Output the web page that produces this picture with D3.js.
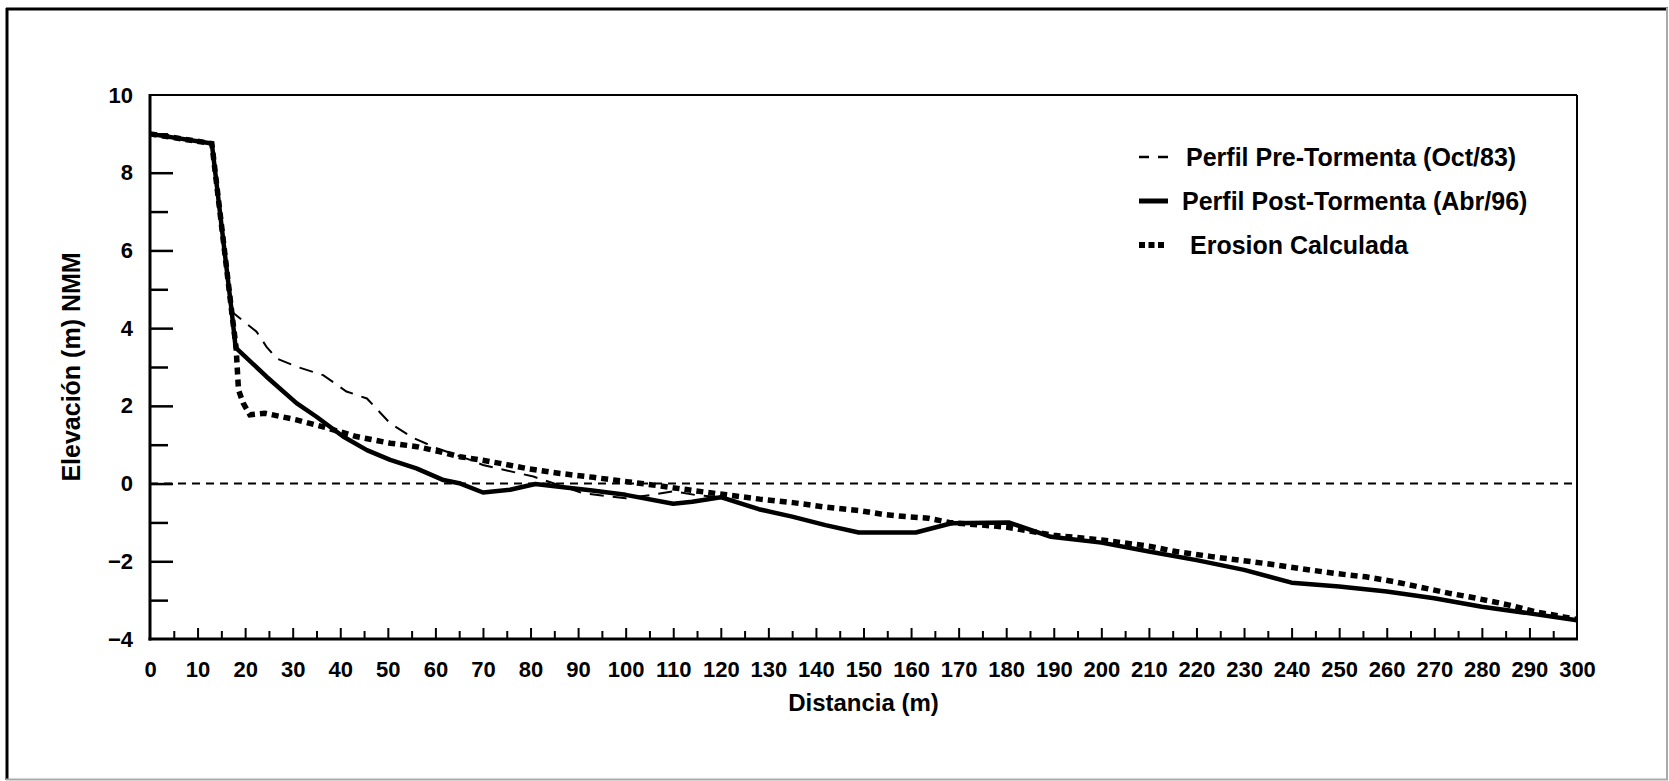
<!DOCTYPE html>
<html>
<head>
<meta charset="utf-8">
<script src="https://cdn.jsdelivr.net/npm/d3@7"></script>
<style>
  html, body { margin: 0; padding: 0; background: #fff; }
  svg { display: block; }
  text { font-family: "Liberation Sans", Arial, sans-serif; font-weight: bold; fill: #000; }
</style>
</head>
<body>
<svg id="chart" width="1669" height="781"></svg>
<script>
// ---------------- data ----------------
const distPre = [0, 13, 17.2, 22.4, 24.5, 26.6, 30.8, 36.4, 41.3, 45.6, 50.5, 55.4, 60.3, 67.3, 70, 80.6, 91, 96, 100, 105, 110, 115, 120,
  128, 135, 142, 149, 161, 168.5, 180.5, 189.4, 200, 210, 220, 230, 240, 250, 260, 270, 280, 290, 300];
const elevPre = [9.0, 8.75, 4.42, 3.91, 3.52, 3.22, 3.01, 2.79, 2.37, 2.19, 1.55, 1.17, 0.91, 0.61, 0.48, 0.18, -0.25, -0.32, -0.38, -0.3, -0.2, -0.3, -0.35,
  -0.66, -0.85, -1.07, -1.26, -1.26, -1.02, -1.0, -1.37, -1.52, -1.75, -1.97, -2.22, -2.55, -2.65, -2.78, -2.95, -3.17, -3.34, -3.52];

const distPost = [0, 13, 17.2, 18, 24.5, 30.8, 35, 40.6, 45.6, 50.5, 56, 61.7, 65, 70, 75.7, 81, 86, 93, 100, 110, 114, 120,
  128, 135, 142, 149, 161, 168.5, 180.5, 189.4, 200, 210, 220, 230, 240, 250, 260, 270, 280, 290, 300];
const elevPost = [9.0, 8.75, 4.4, 3.5, 2.75, 2.07, 1.72, 1.21, 0.86, 0.61, 0.39, 0.09, 0.01, -0.23, -0.16, -0.01, -0.08, -0.18, -0.29, -0.52, -0.47, -0.35,
  -0.66, -0.85, -1.07, -1.26, -1.26, -1.02, -1.0, -1.37, -1.52, -1.75, -1.97, -2.22, -2.55, -2.65, -2.78, -2.95, -3.17, -3.34, -3.52];

const distEro = [0, 13, 17.2, 18.1, 18.6, 19.6, 21, 24.2, 30.8, 36.4, 43.4, 50.5, 56.1, 61, 65.2, 69.4, 73.6, 79.1, 86.2, 93.2, 100.2, 107.2,
  114.2, 121.2, 128.2, 135.2, 142.3, 149.3, 154, 158.8, 163.6, 168, 180, 190, 200, 210, 215.7, 223.2, 229, 236.5, 243.1, 248.9, 255.6,
  261.4, 266.4, 273, 278.8, 285.5, 291.3, 297.1, 300];
const elevEro = [9.0, 8.75, 4.4, 3.5, 2.41, 2.07, 1.77, 1.81, 1.64, 1.46, 1.21, 1.04, 0.95, 0.82, 0.69, 0.61, 0.52, 0.39, 0.26, 0.16, 0.05, -0.06,
  -0.18, -0.29, -0.40, -0.49, -0.61, -0.70, -0.79, -0.85, -0.89, -1.0, -1.12, -1.33, -1.45, -1.61, -1.75, -1.88, -1.97, -2.09, -2.21, -2.31, -2.40,
  -2.52, -2.65, -2.82, -2.95, -3.12, -3.30, -3.43, -3.5];

const xTickLabels = [0,10,20,30,40,50,60,70,80,90,100,110,120,130,140,150,160,170,180,190,200,210,220,230,240,250,260,270,280,290,300];
const yTickLabels = [10, 8, 6, 4, 2, 0, -2, -4];
const seriesNames = ["Perfil Pre-Tormenta (Oct/83)", "Perfil Post-Tormenta (Abr/96)", "Erosion Calculada"];
const xTitle = "Distancia (m)";
const yTitle = "Elevación (m) NMM";

// ---------------- layout ----------------
const L = 150, R = 1577, T = 95, B = 639;
const svg = d3.select("#chart");

const x = d3.scaleLinear().domain([0, 300]).range([L, R]);
const y = d3.scaleLinear().domain([-4, 10]).range([B, T]);

// outer frame
svg.append("line").attr("x1", 7).attr("x2", 7).attr("y1", 8).attr("y2", 780).attr("stroke", "#000").attr("stroke-width", 3);
svg.append("line").attr("x1", 6).attr("x2", 1668).attr("y1", 9).attr("y2", 9).attr("stroke", "#000").attr("stroke-width", 3);
svg.append("line").attr("x1", 1667).attr("x2", 1667).attr("y1", 8).attr("y2", 780).attr("stroke", "#aaa").attr("stroke-width", 2);
svg.append("line").attr("x1", 6).attr("x2", 1668).attr("y1", 779.5).attr("y2", 779.5).attr("stroke", "#aaa").attr("stroke-width", 2);

// plot frame: top & right thin
svg.append("line").attr("x1", L).attr("x2", R).attr("y1", T).attr("y2", T).attr("stroke", "#000").attr("stroke-width", 2);
svg.append("line").attr("x1", R).attr("x2", R).attr("y1", T).attr("y2", B).attr("stroke", "#000").attr("stroke-width", 2);

// x axis: major ticks, minor ticks, labels
const xMajor = d3.axisBottom(x).tickValues(d3.range(10, 300, 10)).tickSizeInner(-11).tickSizeOuter(0).tickFormat("");
const xMinor = d3.axisBottom(x).tickValues(d3.range(5, 300, 10)).tickSizeInner(-8).tickSizeOuter(0).tickFormat("");
const xLab = d3.axisBottom(x).tickValues(xTickLabels).tickSize(0).tickPadding(22).tickFormat(d3.format("d"));

function styleAxis(g, sw) {
  g.selectAll("line").attr("stroke", "#000").attr("stroke-width", sw);
  g.select(".domain").remove();
}
svg.append("g").attr("transform", `translate(0,${B})`).call(xMajor).call(g => styleAxis(g, 2));
svg.append("g").attr("transform", `translate(0,${B})`).call(xMinor).call(g => styleAxis(g, 2));
svg.append("g").attr("transform", `translate(0,${B})`).call(xLab).call(g => {
  g.select(".domain").remove();
  g.selectAll("text").attr("font-size", 22).attr("font-family", "Liberation Sans, Arial, sans-serif").attr("font-weight", "bold").attr("fill", "#000");
});

// y axis
const yMajor = d3.axisLeft(y).tickValues([8, 6, 4, 2, 0, -2]).tickSizeInner(-23).tickSizeOuter(0).tickFormat("");
const yMinor = d3.axisLeft(y).tickValues([9, 7, 5, 3, 1, -1, -3]).tickSizeInner(-18).tickSizeOuter(0).tickFormat("");
const yLab = d3.axisLeft(y).tickValues(yTickLabels).tickSize(0).tickPadding(17).tickFormat(d3.format("d"));
svg.append("g").attr("transform", `translate(${L},0)`).call(yMajor).call(g => styleAxis(g, 2.5));
svg.append("g").attr("transform", `translate(${L},0)`).call(yMinor).call(g => styleAxis(g, 2.5));
svg.append("g").attr("transform", `translate(${L},0)`).call(yLab).call(g => {
  g.select(".domain").remove();
  g.selectAll("text").attr("font-size", 22).attr("font-family", "Liberation Sans, Arial, sans-serif").attr("font-weight", "bold").attr("fill", "#000");
});

// left & bottom thick axis lines
svg.append("line").attr("x1", L).attr("x2", L).attr("y1", T - 1).attr("y2", B + 1.5).attr("stroke", "#000").attr("stroke-width", 3);
svg.append("line").attr("x1", L - 1.5).attr("x2", R + 1).attr("y1", B).attr("y2", B).attr("stroke", "#000").attr("stroke-width", 3);

// zero reference line
svg.append("line").attr("x1", x(0)).attr("x2", x(300)).attr("y1", y(0)).attr("y2", y(0))
  .attr("stroke", "#000").attr("stroke-width", 2).attr("stroke-dasharray", "8,6");

// series
const line = d3.line().x(d => x(d[0])).y(d => y(d[1]));
const pre = distPre.map((d, i) => [d, elevPre[i]]);
const post = distPost.map((d, i) => [d, elevPost[i]]);
const ero = distEro.map((d, i) => [d, elevEro[i]]);

svg.append("path").datum(pre).attr("d", line).attr("fill", "none").attr("stroke", "#000")
  .attr("stroke-width", 2).attr("stroke-dasharray", "14,9");
svg.append("path").datum(post).attr("d", line).attr("fill", "none").attr("stroke", "#000")
  .attr("stroke-width", 4.5).attr("stroke-linejoin", "round");
svg.append("path").datum(ero).attr("d", line).attr("fill", "none").attr("stroke", "#000")
  .attr("stroke-width", 5.5).attr("stroke-dasharray", "7,5");

// axis titles
svg.append("text").attr("x", (L + R) / 2).attr("y", 711).attr("text-anchor", "middle")
  .attr("font-size", 24).text(xTitle);
svg.append("text").attr("transform", `translate(80,${(T + B) / 2}) rotate(-90)`).attr("text-anchor", "middle")
  .attr("font-size", 25).text(yTitle);

// legend
const legRows = [157, 201, 245];
const legTextX = [1186, 1182, 1190];
const lg = svg.append("g");
lg.append("line").attr("x1", 1139).attr("x2", 1168).attr("y1", legRows[0]).attr("y2", legRows[0])
  .attr("stroke", "#000").attr("stroke-width", 2.5).attr("stroke-dasharray", "10,9");
lg.append("line").attr("x1", 1139).attr("x2", 1168).attr("y1", legRows[1]).attr("y2", legRows[1])
  .attr("stroke", "#000").attr("stroke-width", 5);
lg.append("line").attr("x1", 1139).attr("x2", 1164).attr("y1", legRows[2]).attr("y2", legRows[2])
  .attr("stroke", "#000").attr("stroke-width", 6).attr("stroke-dasharray", "6,3.5");
seriesNames.forEach((s, i) => {
  lg.append("text").attr("x", legTextX[i]).attr("y", legRows[i] + 9).attr("font-size", 25).text(s);
});
</script>
</body>
</html>
